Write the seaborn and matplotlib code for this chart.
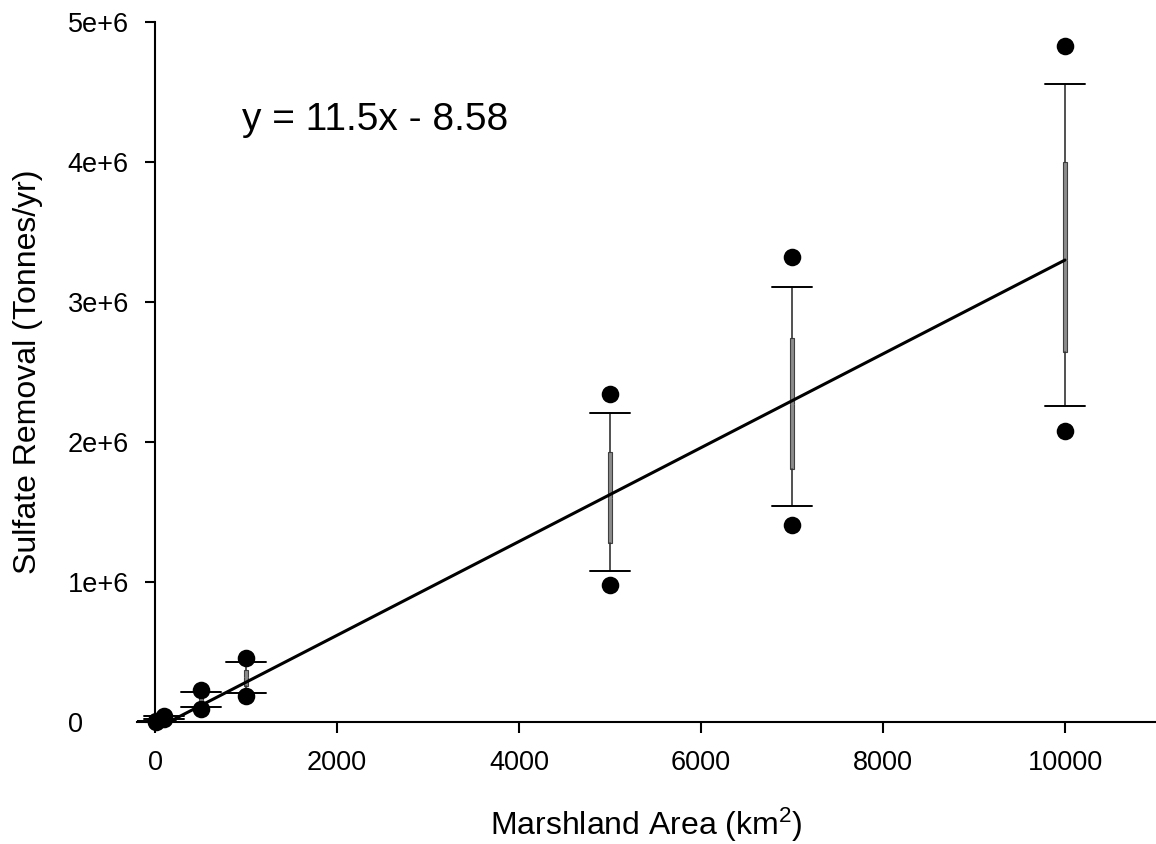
import numpy as np
import pandas as pd
import seaborn as sns
import matplotlib
matplotlib.use("Agg")
import matplotlib.pyplot as plt

# marshland area groups (km2) and the spread of sulfate removal estimates
areas = [10, 100, 500, 1000, 5000, 7000, 10000]
flier_hi = [4.6e3, 4.6e4, 2.29e5, 4.57e5, 2.34e6, 3.32e6, 4.83e6]
whis_hi = [4.3e3, 4.3e4, 2.12e5, 4.3e5, 2.21e6, 3.11e6, 4.56e6]
box_hi = [3.9e3, 3.9e4, 1.85e5, 3.7e5, 1.93e6, 2.74e6, 4.0e6]
box_mid = [3.2e3, 3.2e4, 1.6e5, 3.2e5, 1.6e6, 2.27e6, 3.3e6]
box_lo = [2.6e3, 2.6e4, 1.3e5, 2.6e5, 1.28e6, 1.81e6, 2.64e6]
whis_lo = [2.1e3, 2.1e4, 1.05e5, 2.1e5, 1.08e6, 1.54e6, 2.26e6]
flier_lo = [1.9e3, 1.9e4, 9.3e4, 1.86e5, 0.98e6, 1.41e6, 2.08e6]

# regression line
fit_slope = 335.0
fit_intercept = -5.0e4
eq_text = "y = 11.5x - 8.58"

sns.set_style("ticks")
plt.rcParams['font.family'] = ['Liberation Sans', 'DejaVu Sans']
plt.rcParams['mathtext.fontset'] = 'custom'
plt.rcParams['mathtext.rm'] = 'Liberation Sans'
for k in ['text.color', 'axes.labelcolor', 'xtick.color', 'ytick.color']:
    plt.rcParams[k] = 'black'

fig = plt.figure(figsize=(11.56, 8.44), dpi=100)
ax = fig.add_axes([0.1185, 0.1445, 0.8815, 0.8294])

stats = []
for i in range(len(areas)):
    stats.append(dict(med=box_mid[i], q1=box_lo[i], q3=box_hi[i],
                      whislo=whis_lo[i], whishi=whis_hi[i], fliers=[]))
ax.bxp(stats, positions=areas, widths=45, capwidths=440, patch_artist=True,
       showfliers=False, manage_ticks=False,
       boxprops=dict(facecolor='#8c8c8c', edgecolor='#404040', linewidth=0.8),
       whiskerprops=dict(color='#333333', linewidth=1.2),
       capprops=dict(color='black', linewidth=1.4),
       medianprops=dict(color='#8c8c8c', linewidth=0.5))

df = pd.DataFrame({'area': areas * 2, 'removal': flier_hi + flier_lo})
sns.scatterplot(data=df, x='area', y='removal', ax=ax, color='black', s=160,
                edgecolor='black', linewidth=0, clip_on=False, zorder=5)

fit = pd.DataFrame({'area': [areas[0], areas[-1]]})
fit['removal'] = fit_slope * fit['area'] + fit_intercept
sns.lineplot(data=fit, x='area', y='removal', ax=ax, color='black', lw=2.2, zorder=4)

ax.text(956, 4.23e6, eq_text, fontsize=28, va='baseline', ha='left')

ax.spines['top'].set_visible(False)
ax.spines['right'].set_visible(False)
ax.spines['left'].set_position(('data', 0))
for sp in ['left', 'bottom']:
    ax.spines[sp].set_linewidth(1.5)
    ax.spines[sp].set_color('black')

ax.set_xlim(-200, 11000)
ax.set_ylim(0, 5e6)
ax.set_xticks([0, 2000, 4000, 6000, 8000, 10000])
ax.set_yticks([0, 1e6, 2e6, 3e6, 4e6, 5e6])
ax.set_yticklabels(['0', '1e+6', '2e+6', '3e+6', '4e+6', '5e+6'])
ax.tick_params(axis='x', direction='out', length=8, width=1.5, labelsize=19.5, pad=12)
ax.tick_params(axis='y', direction='out', length=7, width=1.5, labelsize=19.5, pad=56)
for lbl in ax.get_yticklabels():
    lbl.set_horizontalalignment('left')

ax.set_xlabel(r"Marshland Area (km$\mathregular{^2}$)", fontsize=23)
ax.set_ylabel("Sulfate Removal (Tonnes/yr)", fontsize=23)
ax.xaxis.set_label_coords(0.5, -0.12)
ax.yaxis.set_label_coords(-0.092, 0.5)

fig.savefig("out.png", dpi=100)
